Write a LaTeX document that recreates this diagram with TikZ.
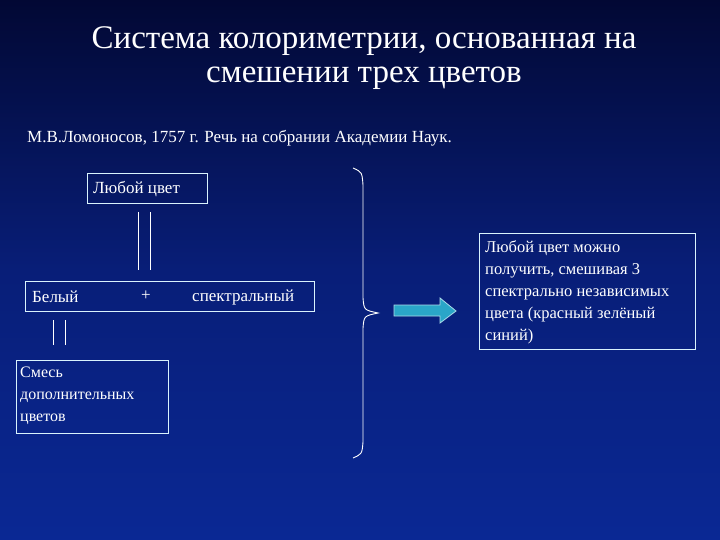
\documentclass[tikz,border=0pt]{standalone}
\usepackage{fontspec}
\setmainfont{Liberation Serif}
\definecolor{bgA}{HTML}{0A2894}
\definecolor{bgM}{HTML}{081E78}
\definecolor{bgB}{HTML}{020834}
\definecolor{teal1}{HTML}{2AA6C8}
\begin{document}
\begin{tikzpicture}[x=1pt,y=-1pt,
  box/.style={draw=white!85!cyan,line width=0.9pt},
  txt/.style={text=white,font=\fontsize{17}{20}\selectfont,inner sep=0pt},
  ln/.style={draw=white,line width=0.9pt}]
\useasboundingbox (0,0) rectangle (720,540);
\shade[top color=bgB, bottom color=bgA, middle color=bgM] (0,0) rectangle (720,540);
\node[text=white,font=\fontsize{33}{34}\selectfont,align=center] (title) at (364,58) {Система колориметрии, основанная на\\смешении трех цветов};
\node[text=white,font=\fontsize{17}{18}\selectfont,anchor=west,inner sep=0pt] (sub) at (27,138) {М.В.Ломоносов, 1757 г. Речь на собрании Академии Наук.};
\draw[box] (87,173) rectangle (207,203);
\node[txt,anchor=west] (any) at (93,189) {Любой цвет};
\draw[box] (25,281) rectangle (314,311);
\node[txt,anchor=west] (white) at (32,297) {Белый};
\node[txt] (plus) at (146,296) {+};
\node[txt,anchor=west] (spec) at (192,297) {спектральный};
\draw[box] (16,360) rectangle (168,433);
\node[txt,anchor=north west,align=left,font=\fontsize{16}{22}\selectfont] (mix) at (20,367) {Смесь\\дополнительных\\цветов};
\coordinate (a1) at (138,212); \coordinate (a2) at (138,270);
\coordinate (b1) at (150,212); \coordinate (b2) at (150,270);
\draw[ln] (a1)--(a2); \draw[ln] (b1)--(b2);
\coordinate (c1) at (53,320); \coordinate (c2) at (53,345);
\coordinate (d1) at (65,320); \coordinate (d2) at (65,345);
\draw[ln] (c1)--(c2); \draw[ln] (d1)--(d2);
\draw[ln] (353,168) .. controls (362,172) .. (363,185) -- (363,298) .. controls (364,310) .. (378,313) .. controls (364,316) .. (363,328) -- (363,442) .. controls (362,454) .. (353,458);
\draw[draw=white!60!teal1,fill=teal1,line width=0.8pt] (394,305) -- (440,305) -- (440,298) -- (456,311) -- (440,323) -- (440,316) -- (394,316) -- cycle;
\draw[box] (479,233) rectangle (695,349);
\node[txt,anchor=north west,align=left,font=\fontsize{16.5}{22}\selectfont] (res) at (485,240) {Любой цвет можно\\получить, смешивая 3\\спектрально независимых\\цвета (красный зелёный\\синий)};
\end{tikzpicture}
\end{document}
